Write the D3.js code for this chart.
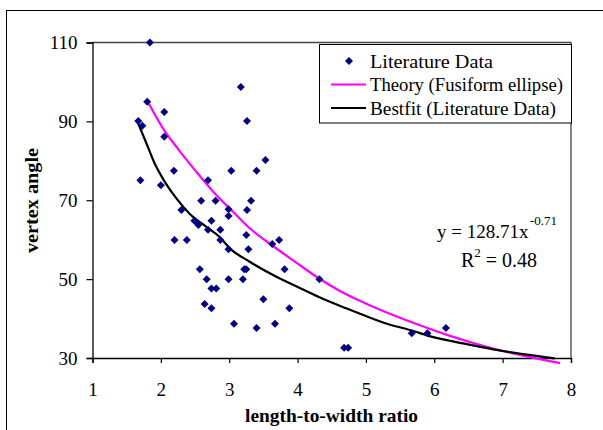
<!DOCTYPE html>
<html>
<head>
<meta charset="utf-8">
<script src="https://cdn.jsdelivr.net/npm/d3@7"></script>
<style>
  html, body { margin: 0; padding: 0; background: #fff; }
  svg { display: block; }
  text { font-family: "Liberation Serif", "Times New Roman", serif; fill: #000; }
</style>
</head>
<body>
<svg id="chart" width="603" height="430"></svg>
<script>
// ---- Data ----
const litX = [1.84, 1.80, 2.05, 1.67, 1.73, 2.05, 1.70, 2.00, 2.19, 2.30,
              2.20, 2.38, 2.49, 2.53, 2.55, 2.59, 2.69, 2.74, 2.69, 2.80,
              2.87, 2.87, 2.99, 2.99, 2.99, 3.03, 3.17, 3.26, 3.26, 3.32,
              3.25, 3.28, 3.40, 3.53, 3.63, 3.73, 2.57, 2.67, 2.74, 2.81,
              2.64, 2.74, 2.99, 3.20, 3.22, 3.25, 3.07, 3.40, 3.50, 3.67,
              3.81, 3.88, 4.32, 4.68, 4.74, 5.67, 5.90, 6.17];
const litY = [110.0, 95.0, 92.4, 90.1, 88.9, 86.1, 75.1, 73.8, 77.5, 67.5,
              59.9, 59.9, 64.8, 64.3, 63.7, 69.9, 75.1, 64.8, 62.5, 69.9,
              62.5, 59.9, 67.7, 66.0, 57.6, 77.5, 98.7, 90.1, 67.5, 69.9,
              61.2, 57.6, 77.5, 80.2, 58.9, 59.9, 52.5, 50.0, 47.6, 47.6,
              43.7, 42.6, 50.0, 50.0, 52.5, 52.5, 38.7, 37.6, 44.9, 38.7,
              52.5, 42.6, 50.0, 32.6, 32.6, 36.3, 36.3, 37.6];

const theoryX = [1.81, 2.05, 2.27, 2.52, 2.76, 3.06, 3.30, 3.64, 3.98, 4.32,
                 4.62, 4.91, 5.25, 5.74, 6.23, 6.71, 7.20, 7.84];
const theoryY = [94.9, 87.7, 82.6, 77.2, 72.3, 67.0, 62.9, 58.4, 54.2, 50.1,
                 47.0, 44.5, 41.9, 38.6, 35.6, 33.1, 31.0, 28.7];

const fitX = [1.66, 1.79, 1.91, 2.06, 2.23, 2.42, 2.67, 2.86, 3.01, 3.30,
              3.69, 3.98, 4.32, 4.71, 4.96, 5.25, 5.64, 6.03, 6.42, 6.86,
              7.30, 7.76];
const fitY = [89.8, 84.4, 79.3, 74.6, 70.4, 66.6, 63.2, 60.7, 57.8, 54.4,
              50.6, 48.2, 45.4, 42.6, 40.9, 39.0, 37.1, 35.1, 33.7, 32.2,
              31.0, 29.9];

const xTicks = [1, 2, 3, 4, 5, 6, 7, 8];
const yTicks = [30, 50, 70, 90, 110];

const legendLabels = ["Literature Data", "Theory (Fusiform ellipse)", "Bestfit (Literature Data)"];
const xTitle = "length-to-width ratio";
const yTitle = "vertex angle";

// ---- Layout ----
const svg = d3.select("#chart");
const L = 92.5, R = 571, T = 42.5, B = 358;

const x = d3.scaleLinear().domain([1, 8]).range([L, R]);
const y = d3.scaleLinear().domain([30, 110]).range([B, T]);

// outer frame
svg.append("rect").attr("x", 6.5).attr("y", 10.5).attr("width", 600).attr("height", 440)
  .attr("fill", "none").attr("stroke", "#000").attr("stroke-width", 1);

// plot area border (top/right)
svg.append("path")
  .attr("d", `M${L},${T}H${R}V${B}`)
  .attr("fill", "none").attr("stroke", "#444").attr("stroke-width", 1.3);

// axes
const xAxis = svg.append("g").attr("transform", `translate(0,${B})`)
  .call(d3.axisBottom(x).tickValues(xTicks).tickSize(5).tickPadding(20).tickFormat(d3.format("d")));
const yAxis = svg.append("g").attr("transform", `translate(${L},0)`)
  .call(d3.axisLeft(y).tickValues(yTicks).tickSize(6).tickPadding(9).tickFormat(d3.format("d")));
[xAxis, yAxis].forEach(g => {
  g.select(".domain").attr("stroke", "#000").attr("stroke-width", 1.3);
  g.selectAll(".tick line").attr("stroke", "#000").attr("stroke-width", 1.2);
  g.selectAll(".tick text").attr("font-family", "Liberation Serif").attr("font-size", 19).attr("fill", "#000");
});

// lines
const line = d3.line().curve(d3.curveMonotoneX);
svg.append("path")
  .datum(theoryX.map((v, i) => [x(v), y(theoryY[i])]))
  .attr("d", line).attr("fill", "none").attr("stroke", "#FF00FF").attr("stroke-width", 2.2);
svg.append("path")
  .datum(fitX.map((v, i) => [x(v), y(fitY[i])]))
  .attr("d", line).attr("fill", "none").attr("stroke", "#000").attr("stroke-width", 2.2);

// markers
const dia = "M0,-4L4,0L0,4L-4,0Z";
svg.append("g").selectAll("path").data(litX.map((v, i) => [v, litY[i]]))
  .join("path")
  .attr("d", dia)
  .attr("transform", d => `translate(${x(d[0])},${y(d[1])})`)
  .attr("fill", "#000080");

// legend
const lg = svg.append("g");
lg.append("rect").attr("x", 319.5).attr("y", 44.5).attr("width", 252).attr("height", 78.5)
  .attr("fill", "#fff").attr("stroke", "#000").attr("stroke-width", 1);
const rowsY = [61, 84.5, 108];
lg.append("path").attr("d", dia).attr("transform", `translate(349,${rowsY[0]})`).attr("fill", "#000080");
lg.append("line").attr("x1", 331).attr("x2", 366).attr("y1", rowsY[1]).attr("y2", rowsY[1])
  .attr("stroke", "#FF00FF").attr("stroke-width", 2.2);
lg.append("line").attr("x1", 331).attr("x2", 366).attr("y1", rowsY[2]).attr("y2", rowsY[2])
  .attr("stroke", "#000").attr("stroke-width", 2.2);
legendLabels.forEach((t, i) => {
  lg.append("text").attr("x", 370).attr("y", rowsY[i] + 6.5).attr("font-size", 19)
    .attr("textLength", [123, 193, 186][i]).attr("lengthAdjust", "spacingAndGlyphs").text(t);
});

// equation
const eqMain = svg.append("text").attr("x", 437).attr("y", 238).attr("font-size", 19).text("y = 128.71x");
const eqW = eqMain.node().getComputedTextLength();
svg.append("text").attr("x", 437 + eqW + 1.5).attr("y", 225).attr("font-size", 13).text("-0.71");
const r2 = svg.append("text").attr("x", 461).attr("y", 267).attr("font-size", 20);
r2.append("tspan").text("R");
r2.append("tspan").attr("dy", -10).attr("font-size", 13).text("2");
r2.append("tspan").attr("dy", 10).text(" = 0.48");

// axis titles
svg.append("text").attr("x", 331.5).attr("y", 422).attr("text-anchor", "middle")
  .attr("font-size", 19).attr("font-weight", "bold")
  .attr("textLength", 173).attr("lengthAdjust", "spacingAndGlyphs").text(xTitle);
svg.append("text").attr("transform", "translate(38,200.5) rotate(-90)").attr("text-anchor", "middle")
  .attr("font-size", 19).attr("font-weight", "bold")
  .attr("textLength", 105).attr("lengthAdjust", "spacingAndGlyphs").text(yTitle);
</script>
</body>
</html>
